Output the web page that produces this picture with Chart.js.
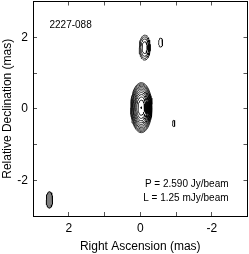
<!DOCTYPE html>
<html>
<head>
<meta charset="utf-8">
<script src="https://cdn.jsdelivr.net/npm/chart.js@4/dist/chart.umd.min.js"></script>
<style>
  html, body { margin: 0; padding: 0; background: #fff; }
</style>
</head>
<body>
<canvas id="map" width="249" height="254"></canvas>
<script>
// source + map info
const sourceName = '2227-088';
const peakJy = 2.590;
const lowestMJy = 1.25;

// contour levels (mJy/beam), lowest x 2^k
const contourLevels = [1.25, 2.5, 5, 10, 20, 40, 80, 160, 320, 640, 1280, 2560];

// gaussian components (mas, mJy/beam)
const compX = [-0.03, -0.125, -0.57, -0.935];
const compY = [0.03, 1.71, 1.85, -0.41];
const compSigX = [0.077, 0.067, 0.058, 0.048];
const compSigY = [0.179, 0.151, 0.13, 0.128];
const compPeak = [2590, 18, 2, 1.6];

// restoring beam (mas)
const beamX = 2.54;
const beamY = -2.55;
const beamHalfMinor = 0.09;
const beamHalfMajor = 0.23;

const axisTicks = [-3, -2, -1, 0, 1, 2, 3];

Chart.defaults.font.family = '"Liberation Sans", Arial, sans-serif';
Chart.defaults.color = '#000';

function ellipse( cx, cy, ax, ay ) {
  const pts = [];
  const n = 48;
  for ( let i = 0; i <= n; i++ ) {
    const t = 2 * Math.PI * i / n;
    pts.push( { x: cx + ax * Math.cos( t ), y: cy + ay * Math.sin( t ) } );
  }
  return pts;
}

const datasets = [];
compX.forEach( ( cx, i ) => {
  contourLevels.forEach( ( lev ) => {
    if ( lev >= compPeak[i] ) return;
    const r = Math.sqrt( 2 * Math.log( compPeak[i] / lev ) );
    datasets.push( {
      data: ellipse( cx, compY[i], r * compSigX[i], r * compSigY[i] ),
      borderColor: '#000',
      borderWidth: 0.8,
      showLine: true,
      pointRadius: 0,
      fill: false,
    } );
  } );
} );

datasets.push( {
  data: ellipse( beamX, beamY, beamHalfMinor, beamHalfMajor ),
  borderColor: '#000',
  borderWidth: 1,
  backgroundColor: '#7f7f7f',
  showLine: true,
  pointRadius: 0,
  fill: 'shape',
} );

const labels = {
  id: 'labels',
  afterDatasetsDraw( chart ) {
    const { ctx, scales: { x, y } } = chart;
    ctx.save();
    ctx.fillStyle = '#000';
    ctx.font = '10px "Liberation Sans", Arial, sans-serif';
    ctx.textBaseline = 'middle';
    ctx.textAlign = 'left';
    ctx.fillText( sourceName, x.getPixelForValue( 2.54 ), y.getPixelForValue( 2.34 ) );
    ctx.textAlign = 'right';
    ctx.fillText( 'P = ' + peakJy.toFixed( 3 ) + ' Jy/beam', x.getPixelForValue( -2.47 ), y.getPixelForValue( -2.1 ) );
    ctx.fillText( 'L = ' + lowestMJy.toFixed( 2 ) + ' mJy/beam', x.getPixelForValue( -2.47 ), y.getPixelForValue( -2.5 ) );
    ctx.restore();
  },
};

function axis( position, showLabels, title ) {
  const horiz = position === 'bottom' || position === 'top';
  return {
    type: 'linear',
    position: position,
    min: -3,
    max: 3,
    reverse: horiz,
    afterBuildTicks: ( s ) => { s.ticks = axisTicks.map( ( v ) => ( { value: v } ) ); },
    ticks: {
      font: { size: 12 },
      color: '#000',
      padding: showLabels ? 9 : 0,
      callback: ( v ) => ( showLabels && v % 2 === 0 ? String( v ) : '' ),
    },
    grid: {
      drawOnChartArea: false,
      tickLength: -4,
      color: '#555',
    },
    border: { display: true, color: '#000', width: 1 },
    title: {
      display: !!title,
      text: title || '',
      font: { size: 12 },
      color: '#000',
      padding: 0,
    },
    afterFit: ( s ) => {
      if ( horiz ) s.height = showLabels ? 38 : 0;
      else s.width = showLabels ? 33 : 0;
      s.paddingTop = 0;
      s.paddingBottom = 0;
      s.paddingLeft = 0;
      s.paddingRight = 0;
    },
  };
}

new Chart( document.getElementById( 'map' ), {
  type: 'scatter',
  data: { datasets: datasets },
  options: {
    responsive: false,
    animation: false,
    layout: { padding: { top: 1.5, right: 1.5, left: 0, bottom: 0 } },
    scales: {
      x: axis( 'bottom', true, 'Right Ascension (mas)' ),
      x2: axis( 'top', false ),
      y: axis( 'left', true, 'Relative Declination (mas)' ),
      y2: axis( 'right', false ),
    },
    plugins: {
      legend: { display: false },
      tooltip: { enabled: false },
    },
  },
  plugins: [labels],
} );
</script>
</body>
</html>
